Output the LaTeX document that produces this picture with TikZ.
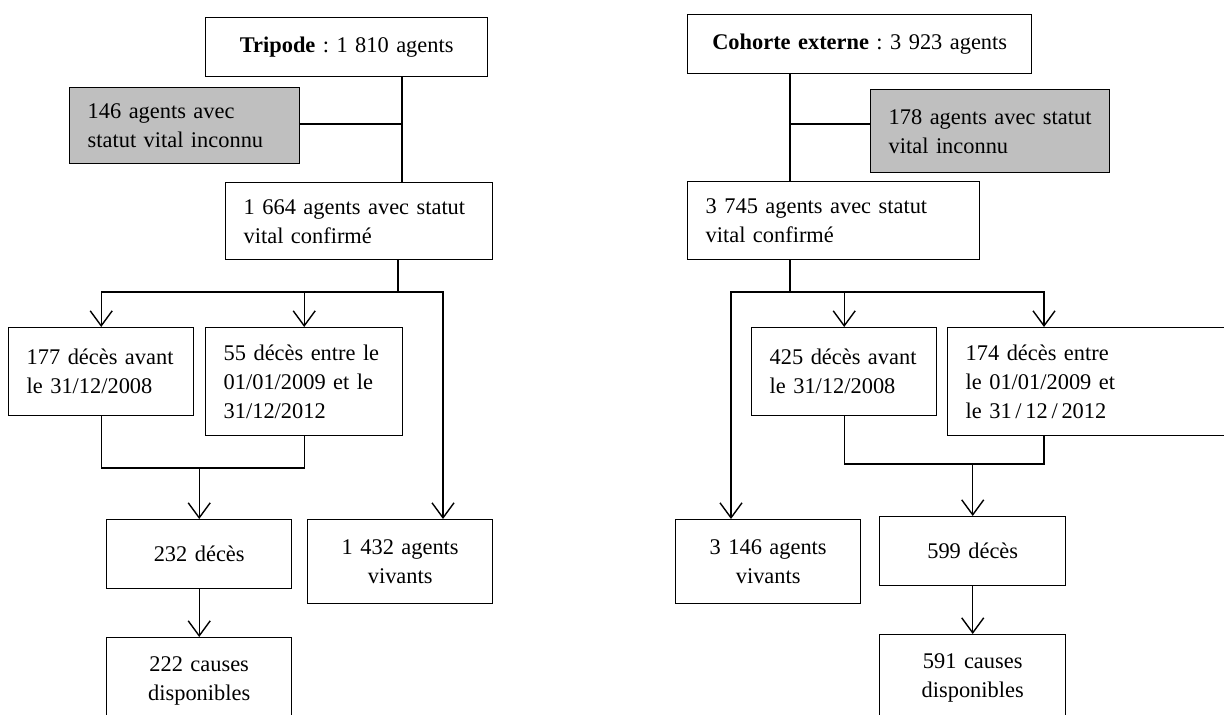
\documentclass[tikz,border=0pt]{standalone}
\usepackage{fontspec}
\setmainfont{Liberation Serif}
\usepackage{tikz}
\usetikzlibrary{arrows.meta}
\frenchspacing

\begin{document}
\begin{tikzpicture}[x=0.5pt,y=-0.5pt]
%%%%%%%%%%%%%%%%%%%%%%%%%%%%%%%%%%%%%%%%%%%%%%%%%%%%%%%%%%%%%%
%styles
\tikzstyle{box}=[draw,line width=0.7pt,anchor=north west,inner xsep=9pt,inner ysep=0pt,align=left,font=\fontsize{11.2}{14.5}\selectfont]
\tikzstyle{cbox}=[box,align=center]
\definecolor{lightgrey}{rgb}{0.75,0.75,0.75}
\tikzstyle{gbox}=[box,fill=lightgrey]
\tikzstyle{link}=[line width=0.7pt]
\tikzstyle{arr}=[link,-{Straight Barb[length=7.5pt,width=11pt]}]
\useasboundingbox (0,0) rectangle (1224,715);
\clip (0,0) rectangle (1224,715);
%%%%%%%%%%%%%%%%%%%%%%%%%%%%%%%%%%%%%%%%%%%%%%%%%%%%%%%%%%%%%%
%Tripode
\node[cbox,text width=123pt,minimum height=29.5pt] (trip) at (205,17) {\textbf{Tripode} : 1 810 agents};
\node[gbox,text width=97pt,minimum height=38pt] (inc1) at (69,87) {146 agents avec\\statut vital inconnu};
\node[box,text width=115.5pt,minimum height=38.5pt] (conf1) at (225,182) {1 664 agents avec statut\\vital confirmé};
\node[box,text width=74.5pt,minimum height=44pt] (avant1) at (8,327) {177 décès avant\\le 31/12/2008};
\node[box,text width=80.5pt,minimum height=54pt] (entre1) at (205,327) {55 décès entre le\\01/01/2009 et le\\31/12/2012};
\node[cbox,text width=74.5pt,minimum height=34.5pt] (dec1) at (106,519) {232 décès};
\node[cbox,text width=74.5pt,minimum height=42pt] (viv1) at (307,519) {1 432 agents\\vivants};
\node[cbox,text width=74.5pt,minimum height=43pt] (cause1) at (106,637) {222 causes\\disponibles};
%Cohorte externe
\node[cbox,text width=154pt,minimum height=29.5pt] (coh) at (687,14) {\textbf{Cohorte externe} : 3 923 agents};
\node[gbox,text width=101.5pt,minimum height=41.5pt] (inc2) at (870,89) {178 agents avec statut\\vital inconnu};
\node[box,text width=128pt,minimum height=39pt] (conf2) at (687,181) {3 745 agents avec statut\\vital confirmé};
\node[box,text width=74.5pt,minimum height=44pt] (avant2) at (751,327) {425 décès avant\\le 31/12/2008};
\node[box,text width=124.5pt,minimum height=54pt] (entre2) at (947,327) {174 décès entre\\le 01/01/2009 et\\le 31\,/\,12\,/\,2012};
\node[cbox,text width=74.5pt,minimum height=42pt] (viv2) at (675,519) {3 146 agents\\vivants};
\node[cbox,text width=75pt,minimum height=34.5pt] (dec2) at (879,516) {599 décès};
\node[cbox,text width=75pt,minimum height=43pt] (cause2) at (879,634) {591 causes\\disponibles};
%%%%%%%%%%%%%%%%%%%%%%%%%%%%%%%%%%%%%%%%%%%%%%%%%%%%%%%%%%%%%%
%junctions
\coordinate (j1) at (402,124);
\coordinate (s1) at (398,292);
\coordinate (v1) at (443,292);
\coordinate (m1) at (194,468);
\coordinate (j2) at (790,124);
\coordinate (s2) at (790,292);
\coordinate (v2) at (731,292);
\coordinate (e2) at (1044,292);
\coordinate (m2) at (970,464);
%%%%%%%%%%%%%%%%%%%%%%%%%%%%%%%%%%%%%%%%%%%%%%%%%%%%%%%%%%%%%%
%ARROWS left
\draw[link] (trip.south -| j1) -- (conf1.north -| j1);
\draw[link] (inc1.east |- j1) -- (j1);
\draw[link] (conf1.south -| s1) -- (s1);
\draw[arr] (s1) -| (avant1.north);
\draw[arr] (entre1.north |- s1) -- (entre1.north);
\draw[arr] (s1) -- (v1) -- (v1 |- viv1.north);
\draw[link] (avant1.south) |- (entre1.south |- m1) -- (entre1.south);
\draw[arr] (dec1.north |- m1) -- (dec1.north);
\draw[arr] (dec1.south) -- (cause1.north);
%ARROWS right
\draw[link] (coh.south -| j2) -- (conf2.north -| j2);
\draw[link] (inc2.west |- j2) -- (j2);
\draw[link] (conf2.south -| s2) -- (s2);
\draw[arr] (s2) -- (v2) -- (v2 |- viv2.north);
\draw[arr] (s2) -| (avant2.north);
\draw[arr] (s2) -- (e2) -- (e2 |- entre2.north);
\draw[link] (avant2.south) |- (e2 |- m2) -- (e2 |- entre2.south);
\draw[arr] (dec2.north |- m2) -- (dec2.north);
\draw[arr] (dec2.south) -- (cause2.north);
\end{tikzpicture}
\end{document}
